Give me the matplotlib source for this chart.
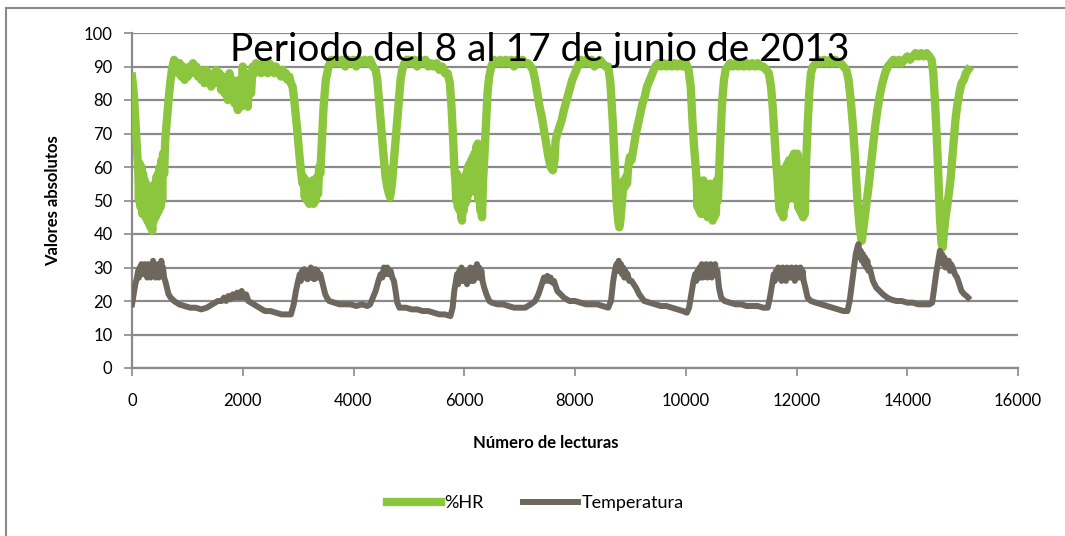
import matplotlib
matplotlib.use("Agg")
import matplotlib.pyplot as plt
from matplotlib.lines import Line2D

plt.rcParams['font.family'] = ['Lato', 'DejaVu Sans']

# %HR readings: (reading number, value)
hr_pts = [
    (0, 87), (20, 84), (40, 80), (60, 74), (80, 68), (100, 62), (115, 58), (125, 50), (140, 61), (155, 48),
    (170, 60), (185, 46), (200, 58), (215, 47), (230, 56), (245, 45), (260, 55), (275, 44), (290, 54),
    (305, 43), (320, 52), (335, 42), (350, 50), (365, 41), (380, 52), (395, 44), (410, 55), (425, 45),
    (440, 57), (455, 46), (470, 58), (485, 47), (500, 60), (515, 48), (530, 62), (545, 50), (560, 64),
    (580, 58), (600, 68), (630, 74), (660, 80), (690, 85), (720, 89), (760, 92),
    (800, 91), (830, 88), (860, 91), (890, 87), (920, 90), (950, 86), (980, 89), (1010, 87), (1040, 90),
    (1070, 88), (1100, 91), (1130, 89), (1160, 90), (1190, 87), (1220, 89), (1250, 86), (1280, 88),
    (1310, 85), (1340, 89), (1370, 86), (1400, 88), (1430, 84), (1460, 87), (1490, 85), (1520, 89),
    (1550, 86), (1580, 88), (1610, 83), (1640, 87), (1670, 82), (1700, 86), (1730, 80), (1760, 88),
    (1790, 81), (1820, 86), (1850, 79), (1880, 85), (1910, 77), (1940, 86), (1970, 78), (2000, 90),
    (2030, 80), (2060, 88), (2090, 78), (2120, 87), (2150, 82), (2180, 90), (2210, 88), (2240, 91),
    (2270, 89), (2300, 90), (2330, 88), (2360, 91), (2390, 89), (2420, 90), (2450, 88), (2480, 91),
    (2510, 89), (2540, 90), (2570, 88), (2600, 90), (2630, 88), (2660, 89), (2690, 87), (2720, 89),
    (2750, 87), (2780, 88), (2810, 86), (2840, 87), (2870, 85), (2900, 84),
    (2930, 80), (2960, 75), (2990, 70), (3020, 64), (3050, 59), (3080, 55), (3100, 57), (3120, 51),
    (3140, 56), (3160, 50), (3180, 55), (3200, 49), (3220, 54), (3240, 50), (3260, 56), (3280, 49),
    (3300, 55), (3320, 50), (3340, 57), (3360, 52), (3380, 60), (3400, 58), (3430, 68), (3460, 78),
    (3500, 86), (3550, 90), (3600, 92),
    (3650, 91), (3700, 92), (3750, 91), (3800, 92), (3850, 90), (3900, 92), (3950, 91), (4000, 92),
    (4050, 90), (4100, 92), (4150, 91), (4200, 92), (4250, 91), (4300, 92), (4350, 90), (4400, 89),
    (4430, 86), (4460, 80), (4490, 74), (4520, 68), (4550, 62), (4580, 57), (4610, 54), (4640, 52),
    (4660, 51), (4680, 53), (4700, 56), (4730, 62), (4760, 68), (4790, 74), (4820, 80), (4850, 86),
    (4880, 89), (4920, 91), (4960, 92),
    (5000, 92), (5050, 91), (5100, 92), (5150, 90), (5200, 92), (5250, 91), (5300, 92), (5350, 90),
    (5400, 91), (5450, 90), (5500, 91), (5550, 89), (5600, 90), (5650, 88), (5700, 88), (5740, 85),
    (5770, 78), (5800, 68), (5820, 60), (5840, 56), (5855, 50), (5870, 58), (5885, 48), (5900, 57),
    (5915, 47), (5930, 56), (5945, 45), (5960, 44), (5975, 55), (5990, 47), (6005, 57), (6020, 49),
    (6035, 58), (6050, 50), (6065, 60), (6080, 52), (6095, 61), (6110, 53), (6125, 62), (6140, 53),
    (6155, 63), (6170, 54), (6185, 64), (6200, 53), (6215, 66), (6230, 52), (6245, 67), (6260, 50),
    (6275, 62), (6290, 47), (6305, 58), (6320, 45), (6340, 56), (6360, 62), (6390, 72), (6420, 82),
    (6450, 87), (6490, 90), (6540, 92),
    (6600, 91), (6650, 92), (6700, 91), (6750, 92), (6800, 91), (6850, 92), (6900, 90), (6950, 92),
    (7000, 91), (7050, 92), (7100, 91), (7150, 91), (7200, 90), (7240, 89),
    (7280, 86), (7320, 82), (7360, 78), (7400, 75), (7440, 71), (7480, 67), (7520, 63), (7560, 60),
    (7600, 59), (7630, 62), (7650, 68), (7680, 70), (7720, 72), (7760, 74), (7800, 77), (7850, 80),
    (7900, 83), (7950, 86), (8000, 88), (8050, 90), (8100, 92),
    (8150, 91), (8200, 92), (8250, 91), (8300, 92), (8350, 90), (8400, 91), (8450, 92), (8500, 91),
    (8550, 90), (8600, 90),
    (8640, 85), (8680, 74), (8720, 60), (8750, 50), (8780, 44), (8800, 42), (8820, 44), (8840, 48),
    (8860, 52), (8880, 56), (8900, 54), (8920, 57), (8940, 55), (8960, 60), (8990, 63), (9020, 62),
    (9060, 66), (9100, 70), (9140, 73), (9180, 76), (9220, 79), (9260, 81), (9300, 84), (9350, 86),
    (9400, 88), (9450, 90), (9500, 91),
    (9550, 90), (9600, 91), (9650, 90), (9700, 91), (9750, 90), (9800, 91), (9850, 90), (9900, 91),
    (9950, 90), (10000, 91), (10050, 89),
    (10090, 84), (10120, 74), (10150, 66), (10180, 60), (10200, 55), (10215, 48), (10230, 56),
    (10245, 47), (10260, 55), (10275, 46), (10290, 54), (10305, 47), (10320, 56), (10335, 46),
    (10350, 55), (10365, 47), (10380, 54), (10395, 45), (10410, 53), (10425, 46), (10440, 55),
    (10455, 45), (10470, 54), (10485, 44), (10500, 53), (10515, 45), (10530, 55), (10545, 46),
    (10560, 56), (10580, 50), (10600, 58), (10630, 70), (10660, 80), (10690, 86), (10720, 89),
    (10760, 90),
    (10800, 91), (10850, 90), (10900, 91), (10950, 90), (11000, 91), (11050, 90), (11100, 91),
    (11150, 90), (11200, 91), (11250, 90), (11300, 91), (11350, 90), (11400, 90), (11450, 89),
    (11500, 88),
    (11540, 84), (11570, 78), (11600, 70), (11630, 62), (11660, 56), (11680, 50), (11700, 47),
    (11715, 58), (11730, 46), (11745, 57), (11760, 45), (11775, 58), (11790, 48), (11805, 60),
    (11820, 50), (11835, 61), (11850, 51), (11865, 62), (11880, 52), (11895, 62), (11910, 51),
    (11925, 63), (11940, 52), (11955, 64), (11970, 51), (11985, 63), (12000, 50), (12015, 64),
    (12030, 48), (12045, 62), (12060, 47), (12075, 60), (12090, 46), (12105, 58), (12120, 45),
    (12135, 56), (12150, 46), (12170, 60), (12200, 72), (12230, 82), (12260, 88), (12300, 90),
    (12350, 91), (12400, 92), (12450, 91), (12500, 92), (12550, 91), (12600, 92), (12650, 91),
    (12700, 92), (12750, 91), (12800, 91), (12850, 90), (12900, 89),
    (12940, 86), (12980, 80), (13020, 72), (13060, 62), (13100, 50), (13140, 42), (13180, 38),
    (13210, 42), (13240, 46), (13270, 50), (13300, 54), (13340, 60), (13380, 66), (13420, 72),
    (13460, 77), (13500, 81), (13550, 85), (13600, 88), (13650, 90), (13700, 91),
    (13750, 92), (13800, 91), (13850, 92), (13900, 91), (13950, 92), (14000, 93), (14050, 92),
    (14100, 93), (14150, 94), (14200, 93), (14250, 94), (14300, 93), (14350, 94), (14400, 93),
    (14440, 92),
    (14470, 88), (14500, 80), (14530, 70), (14560, 58), (14590, 45), (14620, 37), (14640, 36),
    (14660, 40), (14690, 45), (14720, 48), (14750, 52), (14780, 56), (14810, 62), (14840, 68),
    (14870, 74), (14900, 78), (14940, 82), (14980, 85), (15020, 86), (15060, 88), (15100, 89),
]

# Temperatura readings: (reading number, value)
t_pts = [
    (0, 19), (30, 22), (60, 25), (90, 27), (110, 29), (125, 27), (140, 30), (155, 28), (170, 31),
    (185, 28), (200, 30), (215, 28), (230, 31), (245, 28), (260, 30), (275, 27), (290, 31), (305, 28),
    (320, 30), (335, 27), (350, 31), (365, 28), (380, 32), (395, 28), (410, 31), (425, 27), (440, 30),
    (455, 28), (470, 31), (485, 27), (500, 30), (515, 28), (530, 32), (545, 28), (560, 30), (580, 27),
    (600, 26), (630, 24), (660, 22), (700, 21), (760, 20),
    (850, 19), (950, 18.5), (1050, 18), (1150, 18), (1250, 17.5), (1350, 18), (1450, 19), (1550, 20),
    (1620, 20), (1660, 21), (1700, 20), (1740, 21.5), (1780, 20.5), (1820, 22), (1860, 21),
    (1900, 22.5), (1940, 21), (1980, 23), (2020, 21), (2060, 22), (2100, 20), (2200, 19), (2300, 18),
    (2400, 17), (2500, 17), (2600, 16.5), (2700, 16), (2800, 16), (2870, 16),
    (2920, 19), (2960, 23), (3000, 26), (3030, 28), (3050, 26), (3070, 29), (3090, 27), (3110, 29.5),
    (3130, 27), (3150, 29), (3170, 26.5), (3190, 29), (3210, 27), (3230, 30), (3250, 27), (3270, 29),
    (3290, 26.5), (3310, 29.5), (3330, 27), (3350, 29), (3370, 27), (3400, 28), (3430, 26),
    (3460, 24), (3490, 22), (3520, 21), (3560, 20),
    (3650, 19.5), (3750, 19), (3850, 19), (3950, 19), (4050, 18.5), (4150, 19), (4250, 18.5),
    (4300, 19),
    (4350, 21), (4400, 23), (4450, 26), (4490, 28), (4520, 27), (4550, 30), (4580, 28), (4610, 30),
    (4640, 28), (4670, 29), (4700, 27), (4730, 26), (4760, 23), (4790, 19.5), (4830, 18),
    (4950, 18), (5050, 17.5), (5150, 17.5), (5250, 17), (5350, 17), (5450, 16.5), (5550, 16),
    (5650, 16), (5750, 15.5),
    (5790, 18), (5820, 23), (5850, 26), (5870, 28), (5890, 25), (5910, 29), (5930, 26), (5950, 30),
    (5970, 26), (5990, 29), (6010, 26), (6030, 28), (6050, 25), (6070, 29), (6090, 26), (6110, 30),
    (6130, 26), (6150, 29), (6170, 26), (6190, 30), (6210, 27), (6230, 31), (6250, 27), (6270, 30),
    (6290, 27), (6310, 29), (6330, 26), (6360, 24), (6400, 22), (6450, 20),
    (6500, 19.5), (6600, 19), (6700, 19), (6800, 18.5), (6900, 18), (7000, 18), (7100, 18),
    (7200, 19),
    (7280, 20), (7340, 22), (7400, 25), (7440, 27), (7470, 26), (7500, 27.5), (7530, 26), (7560, 27),
    (7590, 25.5), (7620, 26), (7680, 23), (7740, 22), (7800, 21), (7900, 20),
    (8000, 20), (8100, 19.5), (8200, 19), (8300, 19), (8400, 19), (8500, 18.5), (8600, 18),
    (8650, 20), (8690, 26), (8720, 29), (8750, 31), (8770, 29), (8790, 32), (8810, 29), (8830, 31),
    (8850, 28), (8870, 30), (8890, 27), (8910, 29), (8930, 27), (8950, 28), (8980, 26), (9020, 26),
    (9060, 25), (9100, 24), (9160, 22), (9250, 20),
    (9350, 19.5), (9450, 19), (9550, 18.5), (9650, 18.5), (9750, 18), (9850, 17.5), (9950, 17),
    (10020, 16.5),
    (10060, 18), (10100, 22), (10140, 26), (10170, 28), (10190, 26), (10210, 29), (10230, 27),
    (10250, 30), (10270, 27), (10290, 31), (10310, 27), (10330, 30), (10350, 28), (10370, 31),
    (10390, 27), (10410, 30), (10430, 28), (10450, 31), (10470, 27), (10490, 30), (10510, 28),
    (10530, 31), (10550, 28), (10570, 29), (10600, 24), (10640, 21), (10700, 20),
    (10800, 19.5), (10900, 19), (11000, 19), (11100, 18.5), (11200, 18.5), (11300, 18.5),
    (11400, 18), (11480, 18),
    (11520, 21), (11560, 25), (11590, 28), (11610, 26), (11630, 29), (11650, 27), (11670, 30),
    (11690, 27), (11710, 29), (11730, 26), (11750, 30), (11770, 27), (11790, 29), (11810, 26),
    (11830, 30), (11850, 27), (11870, 29), (11890, 27), (11910, 30), (11930, 27), (11950, 29),
    (11970, 26), (11990, 30), (12010, 27), (12030, 29), (12050, 27), (12070, 30), (12090, 27),
    (12110, 29), (12130, 26), (12160, 24), (12200, 21), (12260, 20),
    (12350, 19.5), (12450, 19), (12550, 18.5), (12650, 18), (12750, 17.5), (12850, 17), (12920, 17),
    (12960, 20), (13000, 25), (13040, 30), (13070, 34), (13100, 36), (13120, 37), (13140, 33),
    (13160, 35), (13180, 32), (13200, 34), (13220, 31), (13240, 33), (13260, 30), (13280, 32),
    (13300, 29), (13320, 30), (13350, 28), (13380, 26), (13440, 24), (13500, 23), (13560, 22),
    (13640, 21), (13700, 20.5),
    (13800, 20), (13900, 20), (14000, 19.5), (14100, 19.5), (14200, 19), (14300, 19), (14400, 19),
    (14450, 19.5),
    (14480, 23), (14520, 28), (14560, 32), (14590, 35), (14610, 33), (14630, 34), (14650, 31),
    (14670, 33), (14690, 30), (14710, 32), (14730, 30), (14750, 32), (14770, 29), (14790, 31),
    (14820, 30), (14860, 28), (14900, 27), (14940, 25), (14980, 23), (15030, 22), (15070, 21.5),
    (15100, 21),
]

hr_x, hr_y = zip(*hr_pts)
t_x, t_y = zip(*t_pts)

x_ticks = [0, 2000, 4000, 6000, 8000, 10000, 12000, 14000, 16000]
y_ticks = [0, 10, 20, 30, 40, 50, 60, 70, 80, 90, 100]

green = '#8cc63e'
brown = '#6e675d'
gridc = '#8a8a8a'

fig = plt.figure(figsize=(10.65, 5.36), dpi=100)
ax = fig.add_axes([132/1065, 1-368/536, (1018-132)/1065, (368-33)/536])

ax.plot(hr_x, hr_y, color=green, lw=6.0, solid_joinstyle='round', label='%HR', zorder=3)
ax.plot(t_x, t_y, color=brown, lw=4.3, solid_joinstyle='round', label='Temperatura', zorder=3)

ax.set_xlim(0, 16000)
ax.set_ylim(0, 100)
ax.set_xticks(x_ticks)
ax.set_yticks(y_ticks)
ax.tick_params(labelsize=12, length=6, width=1.2, color=gridc, direction='out')
ax.tick_params(axis='x', pad=12)
ax.tick_params(axis='y', pad=8)
ax.yaxis.grid(True, color=gridc, lw=1.6, zorder=0)
for s in ['top', 'right']:
    ax.spines[s].set_visible(False)
for s in ['left', 'bottom']:
    ax.spines[s].set_color(gridc)
    ax.spines[s].set_linewidth(1.6)

ax.set_xlabel('Número de lecturas', fontsize=12, fontweight='bold')
ax.xaxis.set_label_coords((546-132)/886, -0.2)
ax.set_ylabel('Valores absolutos', fontsize=12, fontweight='bold', labelpad=16)

fig.text(540/1065, 1-50/536, 'Periodo del 8 al 17 de junio de 2013', fontsize=28,
         ha='center', va='center', zorder=5)

fig.legend(loc='center', bbox_to_anchor=(535/1065, 1-503/536), ncol=2, frameon=False,
           fontsize=13, handlelength=3.0, columnspacing=2.2, handletextpad=0.2)

# outer frame (top and left edges visible)
fig.add_artist(Line2D([6/1065, 1], [1-8/536, 1-8/536], color='#8a8a8a', lw=1.5, transform=fig.transFigure))
fig.add_artist(Line2D([6/1065, 6/1065], [0, 1-8/536], color='#8a8a8a', lw=1.5, transform=fig.transFigure))

fig.savefig('out.png', dpi=100)
